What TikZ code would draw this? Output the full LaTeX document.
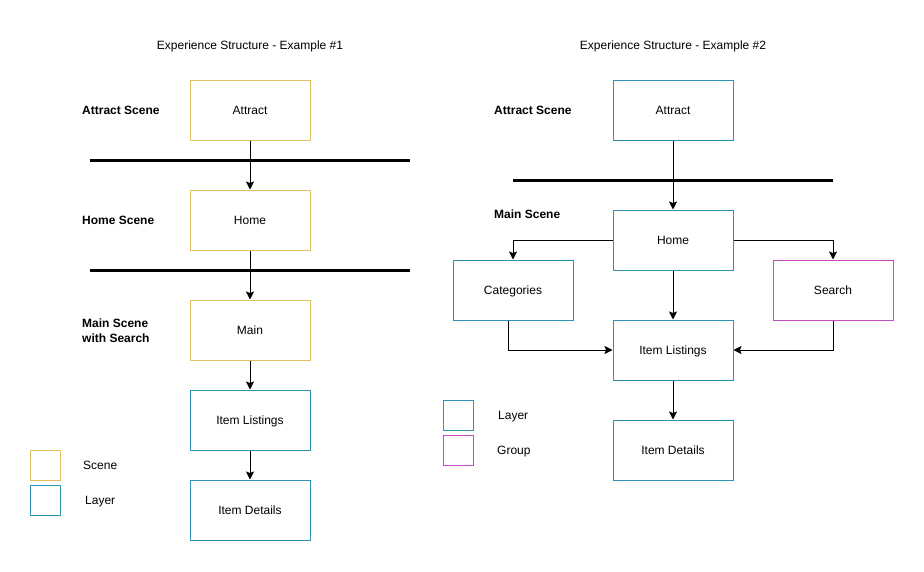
\documentclass[tikz,border=0pt]{standalone}
\usepackage{fontspec}
\setmainfont{Liberation Sans}
\usetikzlibrary{arrows.meta}
\definecolor{scenec}{HTML}{E0C060}
\definecolor{layerc}{HTML}{2E94B4}
\definecolor{groupc}{HTML}{C54CC5}
\begin{document}
\begin{tikzpicture}[x=1pt,y=-1pt,
  every node/.style={font=\fontsize{12}{14}\selectfont, inner sep=0pt, text height=11pt, text depth=2.4pt},
  box/.style={line width=1pt, minimum width=120pt, minimum height=60pt, fill=white},
  scenebox/.style={box, draw=scenec},
  layerbox/.style={box, draw=layerc},
  groupbox/.style={box, draw=groupc},
  legscene/.style={draw=scenec, line width=1pt, minimum width=30pt, minimum height=30pt},
  leglayer/.style={draw=layerc, line width=1pt, minimum width=30pt, minimum height=30pt},
  leggroup/.style={draw=groupc, line width=1pt, minimum width=30pt, minimum height=30pt},
  lbl/.style={font=\fontsize{12}{15}\selectfont\bfseries, anchor=west},
  txt/.style={anchor=west},
  conn/.style={draw, line width=1pt, -{Stealth[length=8pt,width=8pt,inset=1.5pt]}},
  divider/.style={line width=3pt}]
\useasboundingbox (0,0) rectangle (924,571);
% ---------- Example 1 ----------
\node (t1) at (250,45) {Experience Structure - Example \#1};
\node[scenebox] (a1) at (250,110) {Attract};
\node[scenebox] (h1) at (250,220) {Home};
\node[scenebox] (m1) at (250,330) {Main};
\node[layerbox] (il1) at (250,420) {Item Listings};
\node[layerbox] (id1) at (250,510) {Item Details};
\coordinate (d1l) at (90,160); \coordinate (d1r) at (410,160);
\coordinate (d2l) at (90,270); \coordinate (d2r) at (410,270);
\draw[divider] (d1l) -- (d1r);
\draw[divider] (d2l) -- (d2r);
\draw[conn] (a1) -- (h1);
\draw[conn] (h1) -- (m1);
\draw[conn] (m1) -- (il1);
\draw[conn] (il1) -- (id1);
\node[lbl] (la1) at (82,110) {Attract Scene};
\node[lbl] (lh1) at (82,220) {Home Scene};
\node[lbl] (lm1) at (82,323) {Main Scene};
\node[lbl] (lm1b) at (82,338) {with Search};
\node[legscene] (ls1) at (45,465) {};
\node[txt] (lst1) at (83,465) {Scene};
\node[leglayer] (ll1) at (45,500) {};
\node[txt] (llt1) at (85,500) {Layer};
% ---------- Example 2 ----------
\node (t2) at (673,45) {Experience Structure - Example \#2};
\node[layerbox] (a2) at (673,110) {Attract};
\node[layerbox] (h2) at (673,240) {Home};
\node[layerbox] (c2) at (513,290) {Categories};
\node[groupbox] (s2) at (833,290) {Search};
\node[layerbox] (il2) at (673,350) {Item Listings};
\node[layerbox] (id2) at (673,450) {Item Details};
\coordinate (d3l) at (513,180); \coordinate (d3r) at (833,180);
\draw[divider] (d3l) -- (d3r);
\draw[conn] (a2) -- (h2);
\draw[conn] (h2.west) -| (c2.north);
\draw[conn] (h2.east) -| (s2.north);
\draw[conn] (h2) -- (il2);
\draw[conn] ([xshift=-5pt]c2.south) |- (il2.west);
\draw[conn] (s2.south) |- (il2.east);
\draw[conn] (il2) -- (id2);
\node[lbl] (la2) at (494,110) {Attract Scene};
\node[lbl] (lm2) at (494,214) {Main Scene};
\node[leglayer] (ll2) at (458,415) {};
\node[txt] (llt2) at (498,415) {Layer};
\node[leggroup] (lg2) at (458,450) {};
\node[txt] (lgt2) at (497,450) {Group};
\end{tikzpicture}
\end{document}
